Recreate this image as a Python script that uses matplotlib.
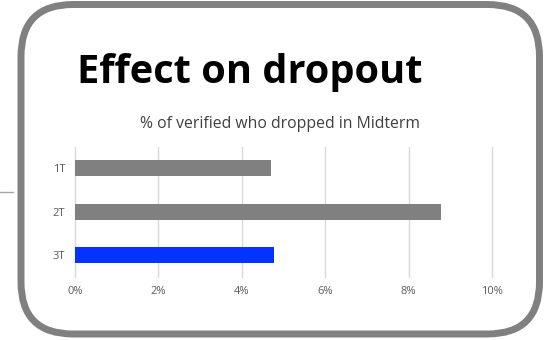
import matplotlib
matplotlib.use("Agg")
import matplotlib.pyplot as plt
from matplotlib.patches import FancyBboxPatch
from matplotlib.lines import Line2D

# Data
categories = ["1T", "2T", "3T"]
values = [4.69, 8.77, 4.77]          # % of verified learners who dropped in midterm
bar_colors = ["#808080", "#808080", "#0433FF"]
x_ticks = [0, 2, 4, 6, 8, 10]
x_tick_labels = ["0%", "2%", "4%", "6%", "8%", "10%"]

W, H = 559, 340
fig = plt.figure(figsize=(W / 100, H / 100), dpi=100)
fig.patch.set_facecolor("white")

# Background layer in pixel units for the rounded frame
bg = fig.add_axes([0, 0, 1, 1], zorder=0)
bg.set_xlim(0, W)
bg.set_ylim(0, H)
bg.axis("off")

left, right, top, bottom = 21, 539.5, 4.5, 334
radius = 52
frame = FancyBboxPatch(
    (left + radius, H - bottom + radius),
    (right - left) - 2 * radius,
    (bottom - top) - 2 * radius,
    boxstyle=f"round,pad={radius}",
    facecolor="white", edgecolor="#808080", linewidth=5.0,
)
bg.add_patch(frame)
bg.add_line(Line2D([0, 13], [H - 192, H - 192], color="#a6a6a6", linewidth=1.0))

bg.text(77, H - 83, "Effect on dropout", fontsize=28.6, fontweight="bold",
        family="Open Sans", color="black", ha="left", va="baseline")
bg.text(280, H - 128, "% of verified who dropped in Midterm", fontsize=11.3,
        family="Open Sans", color="#404040", ha="center", va="baseline")

# Bar chart
ax = fig.add_axes([75 / W, 1 - 276.7 / H, (492 - 75) / W, (276.7 - 146.7) / H], zorder=1)
ax.patch.set_alpha(0)
y = list(range(len(categories)))
ax.barh(y, values, height=0.37, color=bar_colors, zorder=3)
ax.set_xlim(0, 10)
ax.set_ylim(len(categories) - 0.5, -0.5)
ax.set_xticks(x_ticks)
ax.set_xticklabels(x_tick_labels)
ax.set_yticks(y)
ax.set_yticklabels(categories)
ax.grid(axis="x", color="#d9d9d9", linewidth=1.0, zorder=0)
for gl in ax.get_xgridlines():
    gl.set_clip_on(False)
for s in ax.spines.values():
    s.set_visible(False)
ax.tick_params(axis="both", length=0, labelsize=8, labelcolor="#595959")
ax.tick_params(axis="x", pad=7)
ax.tick_params(axis="y", pad=7)
for lbl in ax.get_xticklabels() + ax.get_yticklabels():
    lbl.set_family("Open Sans")

fig.savefig("out.png", dpi=100, facecolor="white")
